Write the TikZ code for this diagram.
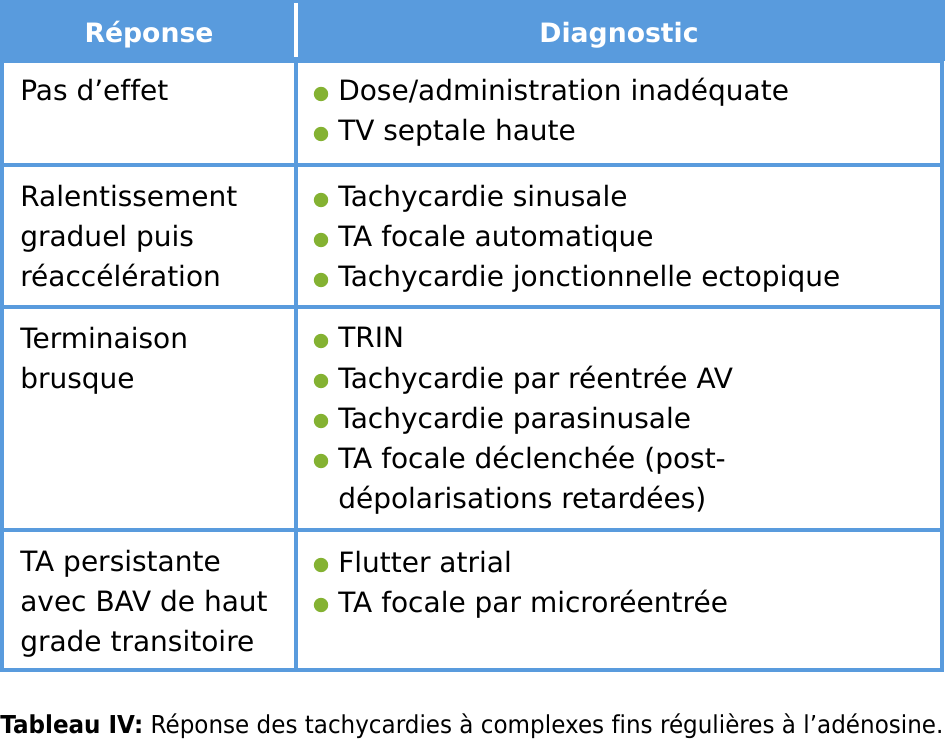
\documentclass[tikz,border=0pt]{standalone}
\usepackage{fontspec}
\setmainfont{DejaVu Sans}[Ligatures=CommonOff]
\definecolor{tabblue}{RGB}{89,155,221}
\definecolor{dotgreen}{RGB}{132,178,50}
\tikzset{
  cell/.style={anchor=base west, inner sep=0pt, align=left,
    font=\fontsize{21pt}{30pt}\selectfont},
  headtext/.style={anchor=base, inner sep=0pt, text=white,
    font=\bfseries\fontsize{20pt}{24pt}\selectfont},
  rule/.style={tabblue, line width=2.4pt},
}
% green bullet in front of an item (optional argument: lines above the base)
\newcommand{\itemdot}[2][0]{\fill[dotgreen] (#2.base west) ++(-17,-7-40*#1) circle[radius=5.4pt];}

\begin{document}
\begin{tikzpicture}[x=0.75pt,y=-0.75pt]
    \useasboundingbox (0,0) rectangle (945,741);

    % header band
    \fill[tabblue] (0,0) rectangle (945,61);
    \draw[white, line width=2.4pt] (296,3) -- (296,57);
    \node[headtext] (hresp) at (149,43) {Réponse};
    \node[headtext] (hdiag) at (619,43) {Diagnostic};

    % frame and rules
    \draw[rule] (2,61) rectangle (942,670);
    \draw[rule] (296,61) -- (296,670);
    \foreach \y in {165, 307, 530}
    \draw[rule] (2,\y) -- (942,\y);

    % first column (base = last line)
    \node[cell] (r1) at (20,101) {Pas d’effet};
    \node[cell] (r2) at (20,287) {Ralentissement\\graduel puis\\réaccélération};
    \node[cell] (r3) at (20,388) {Terminaison\\brusque};
    \node[cell] (r4) at (20,651) {TA persistante\\avec BAV de haut\\grade transitoire};

    % second column
    \node[cell] (d11) at (338,101) {Dose/administration inadéquate};
    \node[cell] (d12) at (338,141) {TV septale haute};
    \node[cell] (d21) at (338,207) {Tachycardie sinusale};
    \node[cell] (d22) at (338,247) {TA focale automatique};
    \node[cell] (d23) at (338,287) {Tachycardie jonctionnelle ectopique};
    \node[cell] (d31) at (338,348) {TRIN};
    \node[cell] (d32) at (338,388) {Tachycardie par réentrée AV};
    \node[cell] (d33) at (338,428) {Tachycardie parasinusale};
    \node[cell] (d34) at (338,508) {TA focale déclenchée (post-\\dépolarisations retardées)};
    \node[cell] (d41) at (338,572) {Flutter atrial};
    \node[cell] (d42) at (338,612) {TA focale par microréentrée};

    % bullets
    \foreach \d in {d11,d12,d21,d22,d23,d31,d32,d33,d41,d42}
    {\itemdot{\d}}
    \itemdot[1]{d34}

    % caption
    \node[anchor=base west, inner sep=0pt, font=\fontsize{18.5pt}{22pt}\selectfont]
      (cap) at (0,733) {\scalebox{0.935}[1]{\textbf{Tableau IV:} Réponse des tachycardies à complexes fins régulières à l’adénosine.}};
\end{tikzpicture}
\end{document}
